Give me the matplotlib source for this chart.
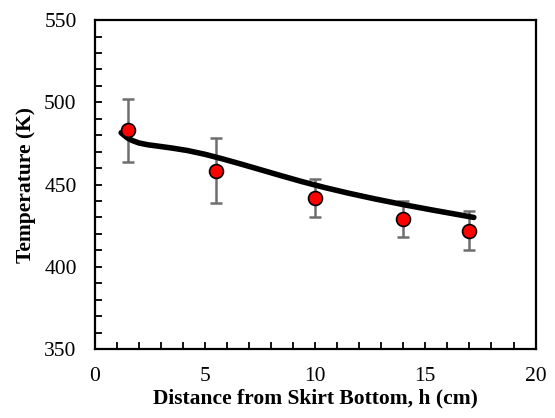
import matplotlib.pyplot as plt
from matplotlib.ticker import MultipleLocator

# measured points
h_meas = [1.5, 5.5, 10, 14, 17]
t_meas = [483, 458.5, 442, 429, 422]
t_err = [19, 19.5, 11.5, 11, 11.7]

# model curve
h_model = [1.2, 1.35, 1.5, 1.7, 2.0, 2.4, 2.9, 3.5, 4.2, 5.0, 5.8, 6.6, 7.4, 8.4, 9.4, 10.4, 11.5, 12.7, 14.0, 15.2, 16.2, 17.2]
t_model = [481.5, 479.8, 478.2, 476.8, 475.3, 474.2, 473.3, 472.2, 470.7, 468.4, 465.6, 462.6, 459.5, 455.6, 451.8, 448.3, 444.8, 441.3, 437.8, 434.8, 432.4, 430.0]

plt.rcParams['font.family'] = ['Liberation Serif']

fig = plt.figure(figsize=(5.55, 4.18), dpi=100)
ax = fig.add_axes([0.1706, 0.165, 0.7944, 0.787])

ax.plot(h_model, t_model, color="black", linewidth=4, solid_capstyle="round", zorder=2)
ax.errorbar(h_meas, t_meas, yerr=t_err, fmt="none", ecolor="#6e6e6e",
            elinewidth=1.8, capsize=4.5, capthick=1.8, zorder=1)
ax.plot(h_meas, t_meas, "o", markersize=10, markerfacecolor="#ff0000",
        markeredgecolor="black", markeredgewidth=1.2, zorder=3)

ax.set_xlim(0, 20)
ax.set_ylim(350, 550)
ax.xaxis.set_major_locator(MultipleLocator(5))
ax.xaxis.set_minor_locator(MultipleLocator(1))
ax.yaxis.set_major_locator(MultipleLocator(50))
ax.yaxis.set_minor_locator(MultipleLocator(10))
ax.tick_params(which="both", direction="in", length=5, width=1.3, labelsize=15.5)
ax.tick_params(axis="x", which="both", top=False, pad=13)
ax.tick_params(axis="y", which="both", right=False, pad=13)
for s in ax.spines.values():
    s.set_linewidth(1.6)

ax.set_xlabel("Distance from Skirt Bottom, h (cm)", fontsize=15.5, fontweight="bold", labelpad=2)
ax.set_ylabel("Temperature (K)", fontsize=15.5, fontweight="bold", labelpad=6)

fig.savefig("out.png", dpi=100)
